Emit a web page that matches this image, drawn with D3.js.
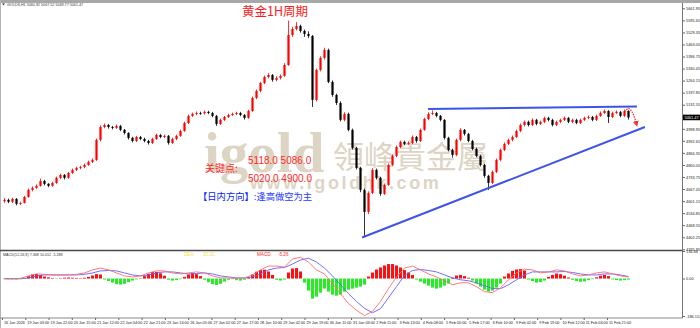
<!DOCTYPE html>
<html>
<head>
<meta charset="utf-8">
<script src="https://cdn.jsdelivr.net/npm/d3@7"></script>
<style>
body { margin: 0; background: #fff; }
svg { display: block; }
</style>
</head>
<body>
<svg id="chart" width="700" height="328"></svg>
<script>
// gold 1H (one candle here ~ 3 hourly bars, open = previous close)
var firstOpen = 4600;
var closes = [4608,4597,4613,4586,4591,4624,4663,4674,4685,4712,
 4696,4685,4701,4729,4745,4729,4756,4773,4784,4789,
 4800,4817,4828,4938,5009,5020,5009,5004,5015,4993,
 4976,4949,4932,4954,4943,4932,4921,4943,4965,4954,
 4960,4921,4943,4960,4987,5031,5070,5081,5086,5084,
 5092,5086,5070,5026,5048,5064,5075,5081,5086,5075,
 5059,5097,5169,5207,5251,5284,5295,5268,5279,5290,
 5350,5515,5548,5565,5537,5521,5510,5158,5323,5389,
 5433,5257,5185,5141,5048,5081,4993,4894,4784,4663,
 4542,4646,4773,4729,4641,4690,4800,4850,4899,4927,
 4916,4921,4954,4932,4993,5053,5081,5086,5070,5048,
 4949,4883,4855,4938,4993,4971,4932,4888,4850,4800,
 4740,4701,4762,4828,4883,4916,4938,4954,4987,5020,
 5037,5020,5048,5026,5037,5059,5048,5020,5037,5048,
 5059,5037,5048,5031,5048,5059,5064,5048,5070,5086,
 5097,5064,5086,5092,5070,5097,5061.47];
var highs = [4618,4615,4620,4618,4598,4630,4670,4682,4693,4725,
 4718,4700,4708,4736,4752,4750,4762,4780,4790,4796,
 4808,4824,4836,4945,5018,5028,5026,5015,5022,5020,
 4998,4980,4955,4960,4960,4950,4938,4950,4972,4970,
 4967,4965,4950,4967,4994,5038,5077,5088,5094,5093,
 5100,5098,5092,5075,5055,5070,5082,5088,5093,5092,
 5080,5104,5176,5215,5258,5292,5305,5300,5288,5298,
 5360,5594,5560,5586,5572,5545,5535,5515,5330,5398,
 5445,5440,5265,5192,5150,5090,5088,5000,4900,4790,
 4670,4655,4782,4780,4735,4698,4808,4858,4907,4935,
 4934,4930,4962,4960,5000,5060,5090,5100,5092,5075,
 5052,4955,4890,4945,5002,4998,4976,4938,4895,4856,
 4806,4746,4770,4835,4890,4924,4945,4962,4994,5028,
 5045,5044,5056,5054,5044,5066,5065,5054,5044,5055,
 5066,5064,5055,5054,5055,5066,5072,5070,5077,5094,
 5106,5102,5093,5100,5097,5105,5101];
var lows = [4592,4590,4590,4578,4580,4588,4620,4655,4668,4680,
 4688,4678,4680,4696,4722,4720,4724,4750,4766,4776,
 4782,4795,4810,4822,4930,5002,5000,4996,4998,4986,
 4968,4940,4924,4926,4936,4925,4912,4915,4938,4947,
 4948,4912,4916,4936,4955,4982,5025,5064,5074,5076,
 5078,5079,5062,5015,5020,5042,5058,5070,5074,5068,
 5050,5054,5092,5162,5200,5245,5276,5258,5260,5270,
 5285,5345,5505,5540,5528,5505,5498,5119,5150,5315,
 5380,5250,5175,5130,5040,5040,4985,4885,4775,4650,
 4404,4530,4640,4720,4630,4635,4685,4795,4843,4892,
 4908,4910,4915,4922,4926,4988,5046,5074,5062,5040,
 4940,4875,4840,4848,4930,4962,4925,4880,4842,4792,
 4730,4662,4695,4755,4820,4876,4910,4930,4948,4980,
 5012,5012,5014,5018,5020,5030,5040,5012,5014,5030,
 5042,5030,5030,5024,5025,5042,5052,5040,5042,5064,
 5080,5031,5058,5080,5062,5064,5049.77];

// MACD histogram, one per candle
var macdHist = [-3,-4,-4,-5,-3,2,12,20,23,18,
 10,6,3,-2,2,4,5,4,3,2,
 4,8,15,22,20,-5,-12,-20,-28,-30,
 -26,-18,-10,-4,2,12,24,32,33,26,
 14,-6,-10,-8,-3,8,20,26,22,12,
 -6,-18,-28,-32,-26,-15,-6,-3,-8,-10,
 -6,6,20,34,42,44,35,18,-6,-10,
 -5,30,50,52,35,-20,-60,-100,-90,-70,
 -50,-65,-80,-85,-80,-65,-55,-50,-45,-40,
 -30,10,30,45,55,65,72,72,65,55,
 42,30,18,-5,-15,-25,-35,-45,-50,-45,
 -35,-25,5,15,18,12,4,-10,-25,-40,
 -55,-65,-60,-45,-25,10,25,38,45,47,
 40,-5,-12,-20,-18,-10,8,18,25,22,
 14,5,-6,-12,-16,-14,-8,-3,6,14,
 18,12,-4,-8,-10,-8,-5.26];
// DIF (red) and DEA (blue), one per two candles
var difLine = [-1,-1,1,13,23,21,18,18,18,21,
 28,43,52,43,28,13,8,13,28,38,
 38,28,23,28,33,28,13,3,3,1,
 3,18,43,62,62,57,97,106,82,43,
 23,-26,-75,-124,-158,-184,-163,-114,-50,8,
 52,62,43,23,8,-11,-31,-21,-21,-41,
 -65,-70,-46,-6,28,47,43,28,33,43,
 38,23,13,18,28,33,23,13,7.368];
var deaLine = [-1,-1,-1,3,13,18,18,18,18,18,
 21,28,38,40,38,28,18,13,18,28,
 33,33,28,23,25,28,23,13,8,3,
 3,8,23,43,52,55,72,92,101,82,
 52,13,-31,-75,-114,-148,-170,-150,-95,-40,
 15,40,45,40,33,18,3,-6,-11,-21,
 -36,-50,-50,-31,-6,18,33,33,33,33,
 35,30,23,18,18,23,23,18,10.012];
var macdHeader = [7.368, 10.012, -5.288];
var macdLegend = [10.31, -5.26];

var priceTicks = [5661.95,5595.65,5529.35,5463.05,5396.75,5330.45,5264.15,5197.85,5131.55,5065.25,
 4998.95,4932.65,4866.35,4800.05,4733.75,4667.45,4601.15,4534.85,4468.55,4402.25,4335.95];
var macdTicks = [136.88, 0, -186.124];
var timeLabels = ["16 Jan 2026","19 Jan 03:00","19 Jan 22:00","20 Jan 15:00","21 Jan 12:00","22 Jan 04:00",
 "22 Jan 21:00","23 Jan 14:00","26 Jan 05:00","27 Jan 02:00","27 Jan 17:00","28 Jan 10:00","29 Jan 02:00",
 "29 Jan 19:00","30 Jan 11:00","31 Jan 03:00","2 Feb 11:00","3 Feb 13:00","4 Feb 08:00","5 Feb 00:00",
 "5 Feb 17:00","6 Feb 10:00","9 Feb 02:00","9 Feb 19:00","10 Feb 12:00","11 Feb 04:00","11 Feb 21:00"];
var lastBar = [5060.92, 5067.52, 5049.77, 5061.47];

// drawn lines: [candle index, price]
var upperLine = [[105.9, 5108], [158.1, 5121]];
var lowerLine = [[89.4, 4401], [160.1, 5009]];
var arrowPts = [[155.1, 5092], [155.9, 5111], [156.9, 5092], [158.1, 5015]];
var resistance = [5118.0, 5086.0];
var support = [5020.0, 4900.0];

var svg = d3.select("#chart");
var axisX = 682.5;

var x = d3.scaleLinear().domain([0, closes.length - 1]).range([4.5, 628.5]);
var y = d3.scaleLinear().domain([4335.95, 5661.95]).range([249.3, 8.3]);
var ym = d3.scaleLinear().domain([-186.124, 136.88]).range([316, 251]);

var candles = closes.map(function(c, i) {
	return {i: i, o: i ? closes[i - 1] : firstOpen, h: highs[i], l: lows[i], c: c};
});

// frame
svg.append("rect").attr("width", 700).attr("height", 328).attr("fill", "#fff");
svg.append("rect").attr("width", 700).attr("height", 3).attr("fill", "#a8a8a8");
svg.append("rect").attr("width", 1).attr("height", 328).attr("fill", "#b4b4b4");

// watermark
var wm = svg.append("g").attr("fill", "#ddd5c4");
wm.append("text").attr("x", 204).attr("y", 172)
	.attr("font-family", "Liberation Serif").attr("font-weight", "bold").attr("font-size", 57)
	.text("igold");
wm.append("text").attr("x", 333).attr("y", 168)
	.attr("font-family", "Noto Sans CJK TC").attr("font-size", 31)
	.text("領峰貴金屬");
wm.append("text").attr("x", 250).attr("y", 189)
	.attr("font-family", "Liberation Sans").attr("font-weight", "bold").attr("font-size", 18)
	.attr("letter-spacing", 2.6)
	.text("www.igoldhk.com");

// candles
var cg = svg.append("g");
cg.selectAll("line").data(candles).enter().append("line")
	.attr("x1", function(d) { return x(d.i); })
	.attr("x2", function(d) { return x(d.i); })
	.attr("y1", function(d) { return y(d.h); })
	.attr("y2", function(d) { return y(d.l); })
	.attr("stroke", function(d) { return d.c >= d.o ? "#ff0000" : "#000"; })
	.attr("stroke-width", 0.8);
cg.selectAll("rect").data(candles).enter().append("rect")
	.attr("x", function(d) { return x(d.i) - 1.1; })
	.attr("width", 2.2)
	.attr("y", function(d) { return y(Math.max(d.o, d.c)); })
	.attr("height", function(d) { return Math.max(0.8, Math.abs(y(d.o) - y(d.c))); })
	.attr("fill", function(d) { return d.c >= d.o ? "#ff0000" : "#000"; });

// trend lines
var tl = d3.line().x(function(d) { return x(d[0]); }).y(function(d) { return y(d[1]); });
[upperLine, lowerLine].forEach(function(pts) {
	svg.append("path").attr("d", tl(pts)).attr("fill", "none")
		.attr("stroke", "#3d55e6").attr("stroke-width", 2);
});

// dotted arrow
svg.append("defs").append("marker").attr("id", "arr")
	.attr("viewBox", "0 0 6 6").attr("refX", 5).attr("refY", 3)
	.attr("markerWidth", 5).attr("markerHeight", 5).attr("orient", "auto")
	.append("path").attr("d", "M0,0L6,3L0,6z").attr("fill", "#ff3030");
svg.append("path").attr("d", tl.curve(d3.curveCatmullRom)(arrowPts))
	.attr("fill", "none").attr("stroke", "#ff3030").attr("stroke-width", 1.2)
	.attr("stroke-dasharray", "1.5,1").attr("marker-end", "url(#arr)");

// notes
var cjk = "Noto Sans CJK SC";
svg.append("text").attr("x", 275).attr("y", 16).attr("text-anchor", "middle")
	.attr("fill", "#ff1a1a").attr("font-family", cjk).attr("font-size", 12.5)
	.text("黄金1H周期");
svg.append("text").attr("x", 248).attr("y", 163.5).attr("fill", "#ff2a2a")
	.attr("font-family", "Liberation Sans").attr("font-size", 10)
	.text(resistance.map(function(v) { return v.toFixed(1); }).join(" "));
svg.append("text").attr("x", 205).attr("y", 172).attr("fill", "#ff2a2a")
	.attr("font-family", cjk).attr("font-size", 10).text("关键点:");
svg.append("text").attr("x", 248).attr("y", 181.5).attr("fill", "#ff2a2a")
	.attr("font-family", "Liberation Sans").attr("font-size", 10)
	.text(support.map(function(v) { return v.toFixed(1); }).join(" "));
var dir = svg.append("text").attr("x", 198).attr("y", 199.5)
	.attr("font-family", cjk).attr("font-size", 9.3);
dir.append("tspan").attr("fill", "#0022ff").text("【日内方向】");
dir.append("tspan").attr("fill", "#2a3cff").text(":逢高做空为主");

// header
svg.append("path").attr("d", "M2,3.6L5,3.6L3.5,5.6z").attr("fill", "#333");
svg.append("text").attr("x", 7).attr("y", 6).attr("font-family", "Liberation Sans")
	.attr("font-size", 3.7).attr("fill", "#333")
	.text("GOLDS,H1  " + lastBar.map(function(v) { return v.toFixed(2); }).join(" "));

// MACD pane
var hg = svg.append("g");
hg.selectAll("rect").data(macdHist).enter().append("rect")
	.attr("x", function(d, i) { return x(i) - 1.5; })
	.attr("width", 3)
	.attr("y", function(d) { return Math.min(ym(d), ym(0)); })
	.attr("height", function(d) { return Math.abs(ym(d) - ym(0)); })
	.attr("fill", function(d) { return d >= 0 ? "#ff1010" : "#22ee22"; });
var ml = d3.line().x(function(d, j) { return x(j * 2); }).y(function(d) { return ym(d); });
svg.append("path").attr("d", ml(deaLine)).attr("fill", "none").attr("stroke", "#6060ff").attr("stroke-width", 0.9);
svg.append("path").attr("d", ml(difLine)).attr("fill", "none").attr("stroke", "#ff6a6a").attr("stroke-width", 0.9);

svg.append("text").attr("x", 3).attr("y", 255.5).attr("font-family", "Liberation Sans")
	.attr("font-size", 3.7).attr("fill", "#333")
	.text("MACD(12,26,9) " + macdHeader.map(function(v) { return v.toFixed(3); }).join(" "));
var lg = svg.append("g").attr("font-family", "Liberation Sans").attr("font-size", 4.6);
lg.append("text").attr("x", 184).attr("y", 256).attr("fill", "#efe24a").text("DEA:");
lg.append("text").attr("x", 203).attr("y", 256).attr("fill", "#efe24a").text(macdLegend[0].toFixed(2));
lg.append("text").attr("x", 257).attr("y", 256).attr("fill", "#ff2a2a").text("MACD:");
lg.append("text").attr("x", 278).attr("y", 256).attr("fill", "#ff2a2a").text(macdLegend[1].toFixed(2));

// pane borders
svg.append("line").attr("x1", 0).attr("x2", axisX).attr("y1", 250.5).attr("y2", 250.5)
	.attr("stroke", "#4a4a4a").attr("stroke-width", 1.6);
svg.append("line").attr("x1", 0).attr("x2", axisX).attr("y1", 318).attr("y2", 318)
	.attr("stroke", "#888").attr("stroke-width", 1);
svg.append("line").attr("x1", axisX).attr("x2", axisX).attr("y1", 3).attr("y2", 318)
	.attr("stroke", "#777").attr("stroke-width", 1);

// price axis
svg.append("g").attr("transform", "translate(" + axisX + ",0)")
	.call(d3.axisRight(y).tickValues(priceTicks).tickFormat(d3.format(".2f")).tickSize(2.5).tickPadding(1).tickSizeOuter(0))
	.attr("font-size", 3.9).attr("font-family", "Liberation Sans")
	.call(function(g) { g.select(".domain").remove(); g.selectAll("line").attr("stroke", "#666"); g.selectAll("text").attr("fill", "#222"); });

// MACD axis
svg.append("g").attr("transform", "translate(" + axisX + ",0)")
	.call(d3.axisRight(ym).tickValues(macdTicks).tickFormat(function(d) { return d === 0 ? "0.00" : String(d); }).tickSize(2.5).tickPadding(1).tickSizeOuter(0))
	.attr("font-size", 3.9).attr("font-family", "Liberation Sans")
	.call(function(g) { g.select(".domain").remove(); g.selectAll("line").attr("stroke", "#666"); g.selectAll("text").attr("fill", "#222"); });

// current price box
var last = closes[closes.length - 1];
svg.append("rect").attr("x", axisX + 0.5).attr("y", y(last) - 2.8).attr("width", 17).attr("height", 5.6).attr("fill", "#000");
svg.append("text").attr("x", axisX + 2).attr("y", y(last) + 1.4).attr("fill", "#fff")
	.attr("font-family", "Liberation Sans").attr("font-size", 3.9).text(last.toFixed(2));

// time axis
var timeIdx = timeLabels.map(function(d, k) { return -0.625 + k * 5.817; });
svg.append("g").attr("transform", "translate(0,318)")
	.call(d3.axisBottom(x).tickValues(timeIdx).tickFormat(function(d, k) { return timeLabels[k]; }).tickSize(2).tickSizeOuter(0))
	.attr("font-size", 3.8).attr("font-family", "Liberation Sans")
	.call(function(g) {
		g.select(".domain").remove();
		g.selectAll("line").attr("stroke", "#666");
		g.selectAll("text").attr("text-anchor", "start").attr("x", 1.5).attr("y", 3).attr("fill", "#222");
	});
</script>
</body>
</html>
